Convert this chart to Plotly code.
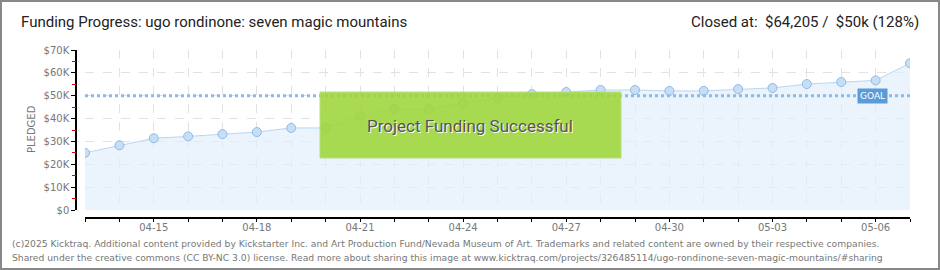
import plotly.graph_objects as go
import pandas as pd

dates = pd.date_range("2025-04-13", "2025-05-07", freq="D").strftime("%Y-%m-%d").tolist()
pledged = [25000, 28300, 31400, 32200, 33200, 34100, 35900, 35900, 41100, 44200, 44200,
           46800, 49000, 50700, 51600, 52500, 52500, 52100, 52100, 52900, 53400, 55100,
           56000, 56700, 64205]
goal = 50000
tick_labels = [d[5:] if i % 3 == 2 else "" for i, d in enumerate(dates)]
y_ticks = [0, 10000, 20000, 30000, 40000, 50000, 60000, 70000]
y_tick_text = ["$0", "$10K", "$20K", "$30K", "$40K", "$50K", "$60K", "$70K"]
y_minor = [5000, 15000, 25000, 35000, 45000, 55000, 65000]

W, H = 940, 270
L, R, T, B = 76, 30, 50, 52
pw, ph = W - L - R, H - T - B

def px(x):
    return (x - L) / pw

def py(y):
    return (H - B - y) / ph

fig = go.Figure()
fig.add_trace(go.Scatter(
    x=dates, y=pledged, mode="lines+markers",
    line=dict(color="#b9d6f2", width=1),
    fill="tozeroy", fillcolor="rgba(226,238,251,0.7)",
    marker=dict(size=9, color="#c6dff7", line=dict(color="#93b9e2", width=1)),
    hoverinfo="skip", showlegend=False,
))
fig.add_trace(go.Scatter(
    x=[dates[0], dates[-1]], y=[goal, goal], mode="lines",
    line=dict(color="#8db9e6", width=3, dash="dot"),
    hoverinfo="skip", showlegend=False,
))
# invisible trace to activate the minor-tick axis
fig.add_trace(go.Scatter(
    x=[dates[0]], y=[0], yaxis="y2", mode="markers", marker=dict(opacity=0),
    hoverinfo="skip", showlegend=False,
))

fig.update_layout(
    width=W, height=H,
    margin=dict(l=L, r=R, t=T, b=B, pad=0),
    paper_bgcolor="white", plot_bgcolor="white",
    font=dict(family="DejaVu Sans", color="#777"),
    xaxis=dict(
        domain=[px(85), 1], anchor="free", position=0,
        range=[dates[0], dates[-1]],
        tickvals=dates, ticktext=tick_labels,
        showline=True, linecolor="#000", linewidth=1.5,
        ticks="outside", ticklen=3, tickcolor="#000", tickwidth=1,
        ticklabelstandoff=-3,
        showgrid=True, gridcolor="#e2e2e2", griddash="dash", gridwidth=1,
        tickfont=dict(size=10, color="#777", family="DejaVu Sans"),
        zeroline=False,
    ),
    yaxis=dict(
        domain=[py(210), 1], anchor="free", position=0,
        range=[0, 70000],
        tickvals=y_ticks, ticktext=y_tick_text,
        showline=True, linecolor="#000", linewidth=1.5,
        ticks="outside", ticklen=4, tickcolor="#000", tickwidth=1,
        showgrid=True, gridcolor="#e2e2e2", griddash="dash", gridwidth=1,
        tickfont=dict(size=10, color="#777", family="DejaVu Sans"),
        zeroline=False,
    ),
    yaxis2=dict(
        domain=[py(210), 1], anchor="free", position=0, overlaying="y",
        range=[0, 70000],
        tickvals=y_minor, ticktext=[""] * len(y_minor),
        showline=False, showgrid=False, zeroline=False,
        ticks="outside", ticklen=4, tickcolor="#e00000", tickwidth=1,
    ),
    shapes=[
        dict(type="rect", xref="paper", yref="paper",
             x0=px(320), x1=px(621), y0=py(158), y1=py(92),
             fillcolor="rgba(160,214,62,0.9)", line=dict(color="#b8e07a", width=1), layer="above"),
        dict(type="rect", xref="paper", yref="paper",
             x0=px(1), x1=px(939), y0=py(269), y1=py(1),
             fillcolor="rgba(0,0,0,0)", line=dict(color="#888", width=2), layer="above"),
    ],
    annotations=[
        dict(text="Project Funding Successful", xref="paper", yref="paper",
             x=px(470), y=py(126), yanchor="middle", showarrow=False,
             font=dict(family="Roboto", size=17, color="#555", shadow="1px 1px 0px white")),
        dict(text="GOAL", xref="paper", yref="y", x=px(888), y=goal, yanchor="middle", showarrow=False,
             bgcolor="#5b9bd8", borderpad=2, font=dict(family="DejaVu Sans", size=9, color="white")),
        dict(text="PLEDGED", xref="paper", yref="paper", x=px(31), y=py(129),
             xanchor="center", yanchor="middle",
             textangle=-90, showarrow=False, font=dict(family="DejaVu Sans", size=10, color="#777")),
        dict(text="Funding Progress: ugo rondinone: seven magic mountains", xref="paper", yref="paper",
             x=px(19), y=py(22), xanchor="left", yanchor="middle", showarrow=False,
             font=dict(family="Roboto", size=15, color="#222")),
        dict(text="Closed at:  $64,205 /  $50k (128%)", xref="paper", yref="paper",
             x=px(921), y=py(22), xanchor="right", yanchor="middle", showarrow=False,
             font=dict(family="Roboto", size=15, color="#222")),
        dict(text="(c)2025 Kicktraq. Additional content provided by Kickstarter Inc. and Art Production Fund/Nevada Museum of Art. Trademarks and related content are owned by their respective companies.",
             xref="paper", yref="paper", x=px(10), y=py(243), xanchor="left", yanchor="middle", showarrow=False,
             font=dict(family="DejaVu Sans", size=9.2, color="#777")),
        dict(text="Shared under the creative commons (CC BY-NC 3.0) license. Read more about sharing this image at www.kicktraq.com/projects/326485114/ugo-rondinone-seven-magic-mountains/#sharing",
             xref="paper", yref="paper", x=px(10), y=py(257), xanchor="left", yanchor="middle", showarrow=False,
             font=dict(family="DejaVu Sans", size=9.2, color="#777")),
    ],
)

fig.write_html("out.html")
